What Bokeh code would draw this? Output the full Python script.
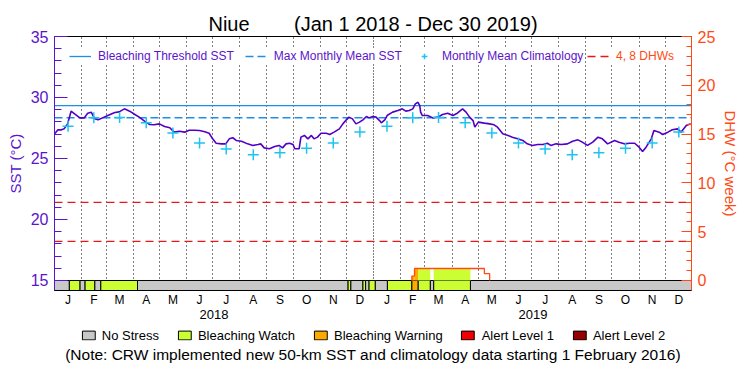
import numpy as np
import pandas as pd
from bokeh.plotting import figure
from bokeh.layouts import column
from bokeh.models import (Range1d, LinearAxis, FixedTicker, Legend, LegendItem,
                          Title, Grid, ColumnDataSource)
from bokeh.embed import file_html
from bokeh.resources import INLINE

# ---------------- data ----------------
SITE = "Niue"
START = "2018-01-01"
END = "2019-12-31"

# SST series: day offset from START, SST (deg C)
sst_day = [0, 4, 8, 11, 15, 19, 23, 29, 34, 38, 42, 46, 50, 55, 61, 69, 74, 80, 86, 92,
           97, 103, 109, 114, 120, 126, 132, 137, 143, 149, 154, 160, 166, 172, 177, 181,
           185, 191, 196, 200, 204, 208, 214, 221, 227, 233, 236, 240, 246, 252, 257, 261,
           265, 269, 273, 275, 280, 282, 286, 290, 294, 297, 301, 305, 311, 315, 320, 326,
           330, 334, 337, 341, 345, 349, 353, 357, 360, 364, 368, 372, 374, 378, 381, 387,
           393, 398, 402, 406, 410, 413, 416, 418, 419, 421, 427, 433, 439, 444, 450, 456,
           461, 467, 471, 475, 479, 481, 485, 492, 498, 503, 507, 513, 519, 524, 530, 536,
           541, 547, 553, 559, 564, 568, 574, 580, 587, 593, 599, 604, 610, 616, 622, 627,
           633, 641, 646, 652, 658, 664, 669, 673, 677, 683, 686, 692, 696, 702, 707, 713,
           717, 723, 728]
sst_val = [27.02, 27.35, 27.35, 27.43, 27.84, 28.88, 28.66, 28.33, 28.33, 28.71, 28.80,
           28.25, 28.17, 28.33, 28.52, 28.77, 28.82, 29.07, 28.88, 28.61, 28.39, 28.06,
           27.79, 27.76, 27.84, 27.62, 27.52, 27.16, 27.24, 27.16, 27.32, 27.32, 27.30,
           27.19, 27.07, 26.61, 26.25, 26.20, 26.20, 26.61, 26.70, 26.48, 26.42, 26.20,
           26.07, 26.15, 26.20, 25.87, 25.80, 25.98, 26.07, 25.87, 26.20, 26.25, 26.15,
           25.80, 25.80, 26.75, 26.89, 26.61, 26.89, 26.61, 26.75, 27.07, 27.07, 26.97,
           27.16, 27.43, 27.84, 28.17, 28.39, 28.25, 27.84, 27.98, 28.17, 28.44, 28.33,
           28.44, 28.39, 28.11, 27.92, 28.17, 28.55, 28.80, 28.93, 29.07, 28.88, 28.93,
           29.07, 29.48, 29.61, 29.34, 28.80, 28.52, 28.52, 28.33, 28.39, 28.61, 28.71,
           28.52, 28.71, 29.07, 28.80, 28.39, 28.11, 27.57, 27.98, 27.90, 27.84, 27.76,
           27.57, 27.02, 26.89, 26.75, 26.61, 26.48, 26.20, 26.07, 26.15, 26.15, 26.25,
           26.07, 26.20, 26.15, 26.20, 26.42, 26.53, 26.34, 26.07, 26.34, 26.75, 26.61,
           26.20, 26.48, 26.34, 26.20, 26.25, 26.25, 25.93, 25.57, 25.93, 26.61, 27.30,
           27.16, 26.97, 27.16, 27.35, 27.43, 27.16, 27.70, 27.84]

# Monthly mean climatology (Jan..Dec)
month_labels = ["J", "F", "M", "A", "M", "J", "J", "A", "S", "O", "N", "D"]
clim_val = [27.65, 28.33, 28.37, 27.92, 27.08, 26.28, 25.77, 25.30, 25.47, 25.85, 26.28, 27.18]
mmm = 28.34
threshold = mmm + 1.0
dhw_levels = [4, 8]
year_labels = ["2018", "2019"]

# Bleaching stress level segments: start day offset, level (0..4)
stress_start = [0, 17, 29, 35, 46, 53, 95, 336, 339, 353, 356, 360, 367, 381, 409, 416, 430, 434, 476]
stress_level = [0, 1, 0, 1, 0, 1, 0, 1, 0, 1, 0, 1, 0, 1, 2, 1, 0, 1, 0]
stress_names = ["No Stress", "Bleaching Watch", "Bleaching Warning", "Alert Level 1", "Alert Level 2"]
stress_colors = ["#C8C8C8", "#CCFF33", "#FFAA00", "#F00000", "#960000"]

# Degree heating weeks (step changes): start day offset, DHW
dhw_start = [409, 412, 492, 498]
dhw_val = [0.45, 1.23, 0.70, 0.0]

NOTE = "(Note: CRW implemented new 50-km SST and climatology data starting 1 February 2016)"

# ---------------- styling ----------------
FONT = "Liberation Sans"
PURPLE = "#5B14CC"
LINE_PURPLE = "#5200C4"
ORANGE = "#FF4A14"
BLUE = "#1E8FE8"
CYAN = "#1EC3F2"
RED = "#E81818"
SST_MIN, SST_MAX = 15, 35
DHW_MAX = 25
BAR_BOTTOM = 14.18
SCALE = DHW_MAX / (SST_MAX - SST_MIN)
FRAME_W = 637
BORDER_L, BORDER_R = 54, 48

base = pd.Timestamp(START)
end = pd.Timestamp(END)
n_days = (end - base).days
EPOCH = pd.Timestamp("1970-01-01")
DAY_MS = 86400000.0
base_ms = (base - EPOCH).total_seconds() * 1000


def to_ms(d):
    return [base_ms + float(v) * DAY_MS for v in d]


def ms(ts):
    return int((pd.Timestamp(ts) - EPOCH).total_seconds() * 1000)


p = figure(frame_width=FRAME_W, frame_height=254, output_backend="svg", toolbar_location=None,
           x_axis_type=None, y_axis_type=None,
           x_range=Range1d(ms(base), ms(end)), y_range=Range1d(BAR_BOTTOM, SST_MAX),
           min_border_left=BORDER_L, min_border_right=BORDER_R, min_border_top=36,
           min_border_bottom=37)
p.extra_y_ranges = {"dhw": Range1d((BAR_BOTTOM - SST_MIN) * SCALE, DHW_MAX)}
p.outline_line_color = "black"
p.outline_line_width = 1
p.background_fill_color = "white"
p.border_fill_color = "white"

p.title.text = SITE + " " + "\u00a0" * 7 + "(Jan 1 2018 - Dec 30 2019)"
p.title.align = "center"
p.title.text_font = FONT
p.title.text_font_size = "20px"
p.title.text_font_style = "normal"
p.title.text_color = "black"
p.title.standoff = 3

# month / year positions
month_starts = pd.date_range(base, end, freq="MS")
month_ends = [m + pd.offsets.MonthBegin(1) for m in month_starts]
mid_months = [m + (e - m) / 2 for m, e in zip(month_starts, month_ends)]
year_starts = pd.date_range(base, end, freq="YS")
mid_years = [y + (y + pd.offsets.YearBegin(1) - y) / 2 for y in year_starts]

# grids: dotted month lines, denser at year boundary
month_grid = Grid(dimension=0, ticker=FixedTicker(ticks=[ms(m) for m in month_starts[1:] if m.month != 1]),
                  grid_line_color="black", grid_line_dash="1 3", grid_line_width=1)
year_grid = Grid(dimension=0, ticker=FixedTicker(ticks=[ms(y) for y in year_starts[1:]]),
                 grid_line_color="black", grid_line_dash="1 2", grid_line_width=1)
p.add_layout(month_grid)
p.add_layout(year_grid)

# stress bar
seg_left = list(stress_start)
seg_right = list(stress_start[1:]) + [n_days]
for lvl, col in enumerate(stress_colors):
    idx = [i for i, l in enumerate(stress_level) if l == lvl]
    if not idx:
        continue
    src = ColumnDataSource(dict(left=to_ms([seg_left[i] for i in idx]),
                                right=to_ms([seg_right[i] for i in idx])))
    p.quad(left="left", right="right", bottom=BAR_BOTTOM, top=SST_MIN, source=src,
           fill_color=col, line_color="black", line_width=1)

# DHW area filled with stress colour of each day
days = np.arange(n_days)
daily_level = np.array(stress_level)[np.searchsorted(stress_start, days, side="right") - 1]
di = np.searchsorted(dhw_start, days, side="right") - 1
daily_dhw = np.where(di >= 0, np.array(dhw_val)[np.clip(di, 0, None)], 0.0)
for lvl in range(1, 5):
    mask = (daily_level == lvl) & (daily_dhw > 0)
    lefts, rights, tops = [], [], []
    i = 0
    while i < n_days:
        if mask[i]:
            j = i
            while j + 1 < n_days and mask[j + 1] and daily_dhw[j + 1] == daily_dhw[i]:
                j += 1
            lefts.append(i); rights.append(j + 1); tops.append(float(daily_dhw[i]))
            i = j + 1
        else:
            i += 1
    if lefts:
        p.quad(left=to_ms(lefts), right=to_ms(rights), bottom=0, top=tops,
               y_range_name="dhw", fill_color=stress_colors[lvl], line_color=None)

# DHW outline
p.step(x=to_ms([dhw_start[0]] + dhw_start), y=[0] + dhw_val, mode="after",
       y_range_name="dhw", line_color=ORANGE, line_width=1.3)

# reference lines
x_span = to_ms([0, n_days])
r_thr = p.line(x=x_span, y=[threshold, threshold], line_color=BLUE, line_width=1.3)
r_mmm = p.line(x=x_span, y=[mmm, mmm], line_color=BLUE, line_width=1.3, line_dash="8 4")
r_dhw = p.multi_line(xs=[x_span for _ in dhw_levels], ys=[[v, v] for v in dhw_levels],
                     y_range_name="dhw", line_color=RED, line_width=1.3, line_dash="8 5")

# SST
p.line(x=to_ms(sst_day), y=sst_val, line_color=LINE_PURPLE, line_width=1.6)

# climatology crosses
clim_x = [ms(m) for m in mid_months]
clim_y = [clim_val[m.month - 1] for m in month_starts]
r_clim = p.scatter(x=clim_x, y=clim_y, marker="cross", size=11, line_color=CYAN, line_width=1.5)

# axes
left_axis = LinearAxis(ticker=FixedTicker(ticks=list(range(SST_MIN, SST_MAX + 1, 5)),
                                          minor_ticks=list(range(SST_MIN, SST_MAX + 1))),
                       axis_label="SST (°C)")
right_axis = LinearAxis(y_range_name="dhw",
                        ticker=FixedTicker(ticks=list(range(0, DHW_MAX + 1, 5)),
                                           minor_ticks=list(range(0, DHW_MAX + 1))),
                        axis_label="DHW (°C week)")
for ax, col, maj, mnr in [(left_axis, PURPLE, 13, 7), (right_axis, ORANGE, 10, 5)]:
    ax.axis_line_color = col
    ax.major_tick_line_color = col
    ax.minor_tick_line_color = col
    ax.major_tick_in = maj
    ax.major_tick_out = 0
    ax.minor_tick_in = mnr
    ax.minor_tick_out = 0
    ax.major_label_text_color = col
    ax.major_label_text_font = FONT
    ax.major_label_text_font_size = "16px"
    ax.major_label_standoff = 6
    ax.axis_label_text_color = col
    ax.axis_label_text_font = FONT
    ax.axis_label_text_font_size = "15px"
    ax.axis_label_text_font_style = "normal"
    ax.axis_label_standoff = 4
p.add_layout(left_axis, "left")
p.add_layout(right_axis, "right")

month_axis = LinearAxis(ticker=FixedTicker(ticks=[ms(m) for m in mid_months]),
                        major_label_overrides={ms(m): month_labels[m.month - 1] for m in mid_months})
year_axis = LinearAxis(ticker=FixedTicker(ticks=[ms(y) for y in mid_years]),
                       major_label_overrides={ms(y): lab for y, lab in zip(mid_years, year_labels)})
for ax, so, fs in [(month_axis, 2, "12px"), (year_axis, 0, "13px")]:
    ax.axis_line_color = "black" if ax is month_axis else None
    ax.major_tick_line_color = None
    ax.minor_tick_line_color = None
    ax.major_tick_in = 0
    ax.major_tick_out = 0
    ax.major_label_text_font = FONT
    ax.major_label_text_font_size = fs
    ax.major_label_text_color = "black"
    ax.major_label_standoff = so
p.add_layout(month_axis, "below")
p.add_layout(year_axis, "below")

# top legends
common = dict(orientation="horizontal", background_fill_color="white", background_fill_alpha=1.0,
              border_line_color=None, padding=5, spacing=11, glyph_width=22, glyph_height=14,
              label_height=14, label_standoff=7, margin=0, label_text_font=FONT,
              label_text_font_size="12px")
leg1 = Legend(items=[LegendItem(label="Bleaching Threshold SST", renderers=[r_thr]),
                     LegendItem(label="Max Monthly Mean SST", renderers=[r_mmm]),
                     LegendItem(label="Monthly Mean Climatology", renderers=[r_clim])],
              location=(15, 227), label_text_color=PURPLE, **common)
leg2 = Legend(items=[LegendItem(label="4, 8 DHWs", renderers=[r_dhw])],
              location=(533, 227), label_text_color=ORANGE, **common)
p.add_layout(leg1)
p.add_layout(leg2)

# ---- strip below: bleaching stress key + note ----
p2 = figure(frame_width=FRAME_W, frame_height=16, output_backend="svg", toolbar_location=None,
            x_axis_type=None, y_axis_type=None, x_range=Range1d(0, 1), y_range=Range1d(0, 1),
            min_border_left=BORDER_L, min_border_right=BORDER_R, min_border_top=0,
            min_border_bottom=0)
p2.outline_line_color = None
p2.background_fill_color = "white"
p2.border_fill_color = "white"
key_renderers = []
for col in stress_colors:
    # legend-only swatch (no drawn mark)
    key_renderers.append(p2.quad(left=[np.nan], right=[np.nan], bottom=[np.nan], top=[np.nan],
                                 fill_color=col, line_color="black", line_width=1))
leg3 = Legend(items=[LegendItem(label=n, renderers=[r]) for n, r in zip(stress_names, key_renderers)],
              orientation="horizontal", location="center", border_line_color=None,
              background_fill_alpha=0, padding=1, spacing=17, glyph_width=16, glyph_height=11,
              label_height=12, label_standoff=6, margin=0, label_text_font=FONT,
              label_text_font_size="13px", label_text_color="black")
p2.add_layout(leg3)
note = Title(text=NOTE, align="center", text_font=FONT, text_font_size="15.5px",
             text_font_style="normal", text_color="black", standoff=1)
p2.add_layout(note, "below")

layout = column(p, p2, spacing=0)
open("out.html", "w").write(file_html(layout, INLINE))
